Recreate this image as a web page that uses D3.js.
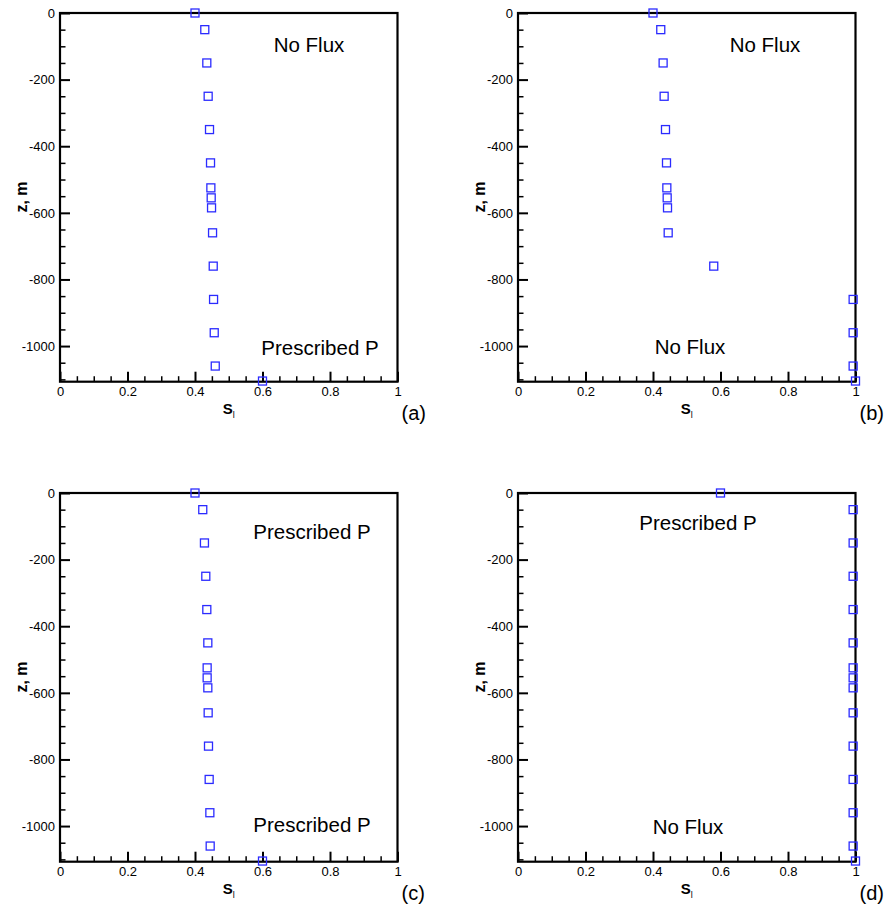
<!DOCTYPE html>
<html>
<head>
<meta charset="utf-8">
<script src="https://cdn.jsdelivr.net/npm/d3@7"></script>
<style>
  html, body { margin: 0; padding: 0; background: #fff; }
  svg { display: block; font-family: "Liberation Sans", Arial, sans-serif; }
</style>
</head>
<body>
<svg id="chart" width="889" height="907"></svg>
<script>
// ---- data ----
const depths = [0, -50, -150, -250, -350, -450, -525, -555, -585, -660, -760, -860, -960, -1060, -1105];
const satA = [0.40, 0.429, 0.435, 0.439, 0.443, 0.446, 0.447, 0.448, 0.449, 0.452, 0.454, 0.455, 0.457, 0.460, 0.60];
const satB = [0.40, 0.423, 0.430, 0.433, 0.437, 0.440, 0.441, 0.442, 0.443, 0.445, 0.58, 0.993, 0.993, 0.993, 1.0];
const satC = [0.40, 0.423, 0.428, 0.432, 0.435, 0.438, 0.436, 0.436, 0.438, 0.439, 0.440, 0.442, 0.444, 0.445, 0.60];
const satD = [0.60, 0.993, 0.993, 0.993, 0.993, 0.993, 0.993, 0.993, 0.993, 0.993, 0.993, 0.993, 0.993, 0.993, 1.0];
const xTickValues = [0, 0.2, 0.4, 0.6, 0.8, 1];
const xTickLabels = ["0", "0.2", "0.4", "0.6", "0.8", "1"];
const yTickValues = [0, -200, -400, -600, -800, -1000];
const yTickLabels = ["0", "-200", "-400", "-600", "-800", "-1000"];
const panelLabels = ["(a)", "(b)", "(c)", "(d)"];
const topNotes = ["No Flux", "No Flux", "Prescribed P", "Prescribed P"];
const bottomNotes = ["Prescribed P", "No Flux", "Prescribed P", "No Flux"];
const series = [satA, satB, satC, satD];

// ---- layout ----
const layout = [
  {left: 60,  top: 13,  topNote: [309, 52],  botNote: [320, 355]},
  {left: 518, top: 13,  topNote: [765, 52],  botNote: [690, 354]},
  {left: 60,  top: 493, topNote: [312, 539], botNote: [312, 832]},
  {left: 518, top: 493, topNote: [698, 530], botNote: [688, 834]}
];
const W = 337.5, H = 368.7;
const yMin = -1107;

const svg = d3.select("#chart");

layout.forEach((L, i) => {
  const x = d3.scaleLinear().domain([0, 1]).range([L.left, L.left + W]);
  const y = d3.scaleLinear().domain([yMin, 0]).range([L.top + H, L.top]);
  const g = svg.append("g");

  const xMinor = d3.range(0, 1.0001, 0.05).filter(v => Math.abs(v * 5 - Math.round(v * 5)) > 1e-6);
  const yMinor = d3.range(0, yMin, -50).filter(v => v % 200 !== 0);

  // x axis (bottom), ticks inward
  const xAxis = d3.axisBottom(x).tickValues(xTickValues)
    .tickFormat((d, k) => xTickLabels[k]).tickSizeInner(-10).tickSizeOuter(0).tickPadding(5);
  const gx = g.append("g").attr("transform", `translate(0,${L.top + H})`).call(xAxis);
  gx.selectAll("line").attr("stroke", "#000").attr("stroke-width", 2);
  gx.selectAll("text").attr("font-size", 13).attr("fill", "#000")
    .attr("font-family", "'Liberation Sans', Arial, sans-serif");
  gx.select(".domain").remove();
  g.append("g").attr("transform", `translate(0,${L.top + H})`)
    .call(d3.axisBottom(x).tickValues(xMinor).tickSizeInner(-5.5).tickSizeOuter(0).tickFormat(""))
    .call(s => s.select(".domain").remove())
    .selectAll("line").attr("stroke", "#000").attr("stroke-width", 1.5);

  // y axis (left), ticks inward
  const yAxis = d3.axisLeft(y).tickValues(yTickValues)
    .tickFormat((d, k) => yTickLabels[k]).tickSizeInner(-10).tickSizeOuter(0).tickPadding(5);
  const gy = g.append("g").attr("transform", `translate(${L.left},0)`).call(yAxis);
  gy.selectAll("line").attr("stroke", "#000").attr("stroke-width", 2);
  gy.selectAll("text").attr("font-size", 13).attr("fill", "#000")
    .attr("font-family", "'Liberation Sans', Arial, sans-serif");
  gy.select(".domain").remove();
  g.append("g").attr("transform", `translate(${L.left},0)`)
    .call(d3.axisLeft(y).tickValues(yMinor).tickSizeInner(-5.5).tickSizeOuter(0).tickFormat(""))
    .call(s => s.select(".domain").remove())
    .selectAll("line").attr("stroke", "#000").attr("stroke-width", 1.5);

  // frame
  g.append("rect")
    .attr("x", x(0)).attr("y", y(0))
    .attr("width", x(1) - x(0)).attr("height", y(yMin) - y(0))
    .attr("fill", "none").attr("stroke", "#000").attr("stroke-width", 2.2);

  // markers
  const vals = series[i];
  g.append("g").selectAll("rect").data(depths).join("rect")
    .attr("x", (d, k) => x(vals[k]) - 4)
    .attr("y", d => y(d) - 4)
    .attr("width", 8).attr("height", 8)
    .attr("fill", "none").attr("stroke", "#2b2bff").attr("stroke-width", 1.3);

  // annotations
  g.append("text").attr("x", L.topNote[0]).attr("y", L.topNote[1])
    .attr("text-anchor", "middle").attr("font-size", 20.5).text(topNotes[i]);
  g.append("text").attr("x", L.botNote[0]).attr("y", L.botNote[1])
    .attr("text-anchor", "middle").attr("font-size", 20.5).text(bottomNotes[i]);

  // axis titles
  const xt = g.append("text").attr("x", (x(0) + x(1)) / 2).attr("y", L.top + H + 32)
    .attr("text-anchor", "middle").attr("font-size", 15).attr("font-weight", "bold");
  xt.append("tspan").text("S");
  xt.append("tspan").attr("dy", 4).attr("font-size", 9).attr("font-weight", "normal").text("l");

  g.append("text")
    .attr("transform", `translate(${L.left - 33},${L.top + 184}) rotate(-90)`)
    .attr("text-anchor", "middle").attr("font-size", 16).attr("font-weight", "bold")
    .text("z, m");

  // panel label
  g.append("text").attr("x", L.left + W + 4).attr("y", L.top + H + 38)
    .attr("font-size", 20).text(panelLabels[i]);
});
</script>
</body>
</html>
